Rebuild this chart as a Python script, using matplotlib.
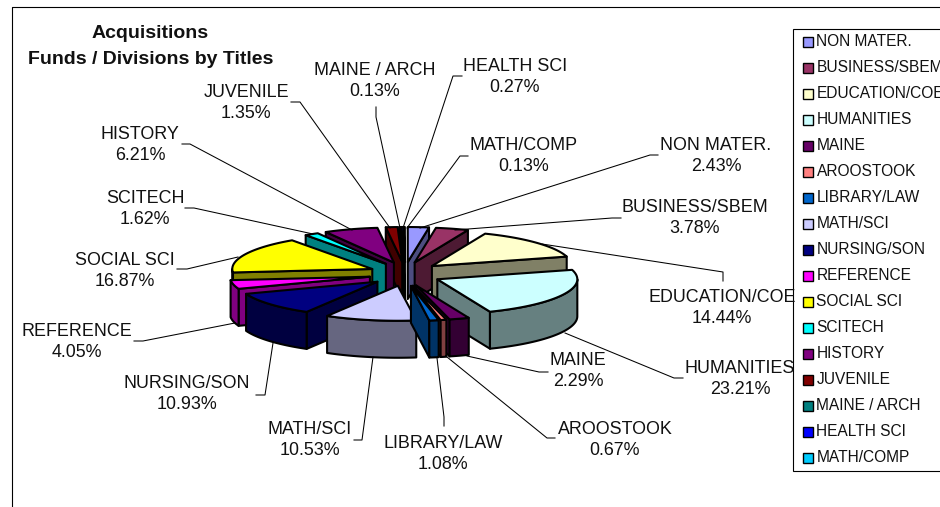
"""Acquisitions by fund / division: exploded 3D pie in the old spreadsheet style."""

import matplotlib

matplotlib.use("Agg")
import matplotlib.pyplot as plt
import numpy as np
from matplotlib.patches import Polygon, Rectangle

names = ["NON MATER.", "BUSINESS/SBEM", "EDUCATION/COE", "HUMANITIES", "MAINE", "AROOSTOOK",
         "LIBRARY/LAW", "MATH/SCI", "NURSING/SON", "REFERENCE", "SOCIAL SCI", "SCITECH",
         "HISTORY", "JUVENILE", "MAINE / ARCH", "HEALTH SCI", "MATH/COMP"]
percents = [2.43, 3.78, 14.44, 23.21, 2.29, 0.67, 1.08, 10.53, 10.93, 4.05, 16.87, 1.62,
            6.21, 1.35, 0.13, 0.27, 0.13]
colors = ["#9999FF", "#993366", "#FFFFCC", "#CCFFFF", "#660066", "#FF8080", "#0066CC", "#CCCCFF",
          "#000080", "#FF00FF", "#FFFF00", "#00FFFF", "#800080", "#800000", "#008080", "#0000FF",
          "#00CCFF"]

# label centres and leader polylines, in image pixels
label_pos = [(716, 155), (695, 217), (722, 307), (740, 378), (578, 370), (615, 439), (443, 453),
             (310, 439), (187, 393), (77, 341), (125, 270), (145, 208), (140, 144), (246, 102),
             (375, 80), (515, 76), (524, 155)]
leaders = [
    [(658, 155), (650, 155), (420, 228)],
    [(621, 218), (612, 218), (455, 230)],
    [(723, 281), (723, 272), (542, 244)],
    [(683, 378), (674, 378), (565, 333)],
    [(548, 372), (539, 372), (467, 356)],
    [(555, 438), (547, 438), (447, 357)],
    [(444, 426), (444, 417), (437, 358)],
    [(354, 440), (362, 440), (373, 357)],
    [(256, 395), (265, 395), (273, 343)],
    [(134, 341), (143, 341), (235, 323)],
    [(177, 269), (187, 269), (238, 257)],
    [(185, 208), (194, 208), (313, 234)],
    [(182, 144), (190, 144), (352, 230)],
    [(291, 102), (300, 102), (390, 228)],
    [(376, 107), (376, 117), (400, 228)],
    [(462, 76), (453, 76), (403, 228)],
    [(468, 156), (460, 156), (407, 228)],
]

CX, CY = 405, 274
RX, RY = 140, 35
EX, EY = 36, 12  # explosion offset
DEPTH = 37
EDGE = 1.5


def shade(hex_color):
    return tuple(c * 0.5 for c in matplotlib.colors.to_rgb(hex_color))


def rim(ax0, ay0, th):
    return np.column_stack([ax0 + RX * np.sin(th), ay0 - RY * np.cos(th)])


def draw_slice(ax, t1, t2, color):
    mid = (t1 + t2) / 2
    ax0 = CX + EX * np.sin(mid)
    ay0 = CY - EY * np.cos(mid)
    dark = shade(color)
    apex = np.array([[ax0, ay0]])
    drop = np.array([0, DEPTH])
    kw = dict(ec="black", lw=EDGE, joinstyle="round")

    # radial walls, only those facing the viewer
    for th, visible in ((t1, np.sin(t1) < 0), (t2, np.sin(t2) > 0)):
        if visible:
            p = rim(ax0, ay0, np.array([th]))
            ax.add_patch(Polygon(np.vstack([apex, p, p + drop, apex + drop]), fc=dark, **kw))

    # outer wall, front half of the rim only
    lo, hi = max(t1, np.pi / 2), min(t2, 3 * np.pi / 2)
    if hi > lo:
        arc = rim(ax0, ay0, np.linspace(lo, hi, 40))
        ax.add_patch(Polygon(np.vstack([arc, (arc + drop)[::-1]]), fc=dark, **kw))

    arc = rim(ax0, ay0, np.linspace(t1, t2, 60))
    ax.add_patch(Polygon(np.vstack([apex, arc]), fc=color, **kw))


fig = plt.figure(figsize=(9.4, 5.07), dpi=100)
ax = fig.add_axes([0, 0, 1, 1])
ax.set_xlim(0, 940)
ax.set_ylim(507, 0)
ax.axis("off")
plt.rcParams["font.family"] = ["Liberation Sans", "DejaVu Sans"]

# chart frame, cropped on the right and at the bottom
ax.plot([12, 12, 940], [507, 7, 7], color="black", lw=0.8)

ax.text(150.5, 34, "Acquisitions", ha="center", va="center", fontsize=14, fontweight="bold",
        color="#111111")
ax.text(150.5, 60, "Funds / Divisions by Titles", ha="center", va="center", fontsize=14,
        fontweight="bold", color="#111111")

# leader lines sit under the pie
for pts in leaders:
    xs, ys = zip(*pts)
    ax.plot(xs, ys, color="black", lw=0.75)

edges = np.cumsum([0] + percents) / sum(percents) * 2 * np.pi
order = sorted(range(len(percents)), key=lambda i: -np.cos((edges[i] + edges[i + 1]) / 2))
for i in order:
    draw_slice(ax, edges[i], edges[i + 1], colors[i])

for name, val, (x, y) in zip(names, percents, label_pos):
    ax.text(x, y + 1, f"{name}\n{val:.2f}%", ha="center", va="center", fontsize=12.9,
            linespacing=1.36, color="#111111")

# legend
ax.add_patch(Rectangle((793, 29), 160, 442, fc="white", ec="black", lw=0.8))
for i, (name, c) in enumerate(zip(names, colors)):
    y = 42 + 26 * i
    ax.add_patch(Rectangle((803, y - 5), 10, 10, fc=c, ec="black", lw=1.0))
    ax.text(816.5, y, name, ha="left", va="center", fontsize=11.2, color="#111111")

fig.savefig("out.png", dpi=100, facecolor="white")
plt.close(fig)
